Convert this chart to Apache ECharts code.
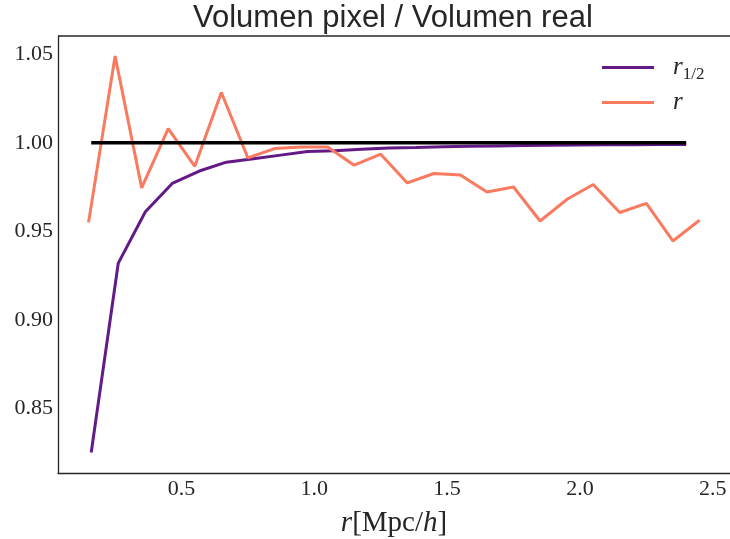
<!DOCTYPE html>
<html>
<head>
<meta charset="utf-8">
<script src="https://cdn.jsdelivr.net/npm/echarts@6/dist/echarts.min.js"></script>
<style>
  html, body { margin: 0; padding: 0; background: #ffffff; }
  #chart { width: 730px; height: 539px; }
</style>
</head>
<body>
<div id="chart"></div>
<script>
// Radii (Mpc/h) and volume ratios for the full-radius bins (r)
const rRadius = [0.15, 0.25, 0.35, 0.45, 0.55, 0.65, 0.75, 0.85, 0.95, 1.05, 1.15, 1.25,
                 1.35, 1.45, 1.55, 1.65, 1.75, 1.85, 1.95, 2.05, 2.15, 2.25, 2.35, 2.45];
const rRatio = [0.955, 1.049, 0.9745, 1.008, 0.9867, 1.0284, 0.9914, 0.9967, 0.9976, 0.9976,
                0.9873, 0.9935, 0.9773, 0.9826, 0.9818, 0.9722, 0.9750, 0.9558, 0.9679, 0.9764,
                0.9606, 0.9657, 0.9445, 0.9562];

// Radii and volume ratios for the half-radius bins (r_1/2)
const halfRadius = [0.160, 0.262, 0.364, 0.465, 0.567, 0.669, 0.771, 0.873, 0.975, 1.076,
                    1.178, 1.280, 1.382, 1.484, 1.585, 1.687, 1.789, 1.891, 1.993, 2.095,
                    2.196, 2.298, 2.400];
const halfRatio = [0.825, 0.932, 0.961, 0.977, 0.984, 0.989, 0.991, 0.993, 0.995, 0.9955,
                   0.9963, 0.9970, 0.9973, 0.9977, 0.9980, 0.9982, 0.9984, 0.9986, 0.9987,
                   0.9988, 0.9989, 0.9990, 0.9990];

// Reference level (ratio = 1)
const unityRadius = [0.16, 2.40];
const unityRatio = [1.0, 1.0];

// Tick labels
const xTicks = [0.5, 1.0, 1.5, 2.0, 2.5];
const yTicks = [0.85, 0.90, 0.95, 1.00, 1.05];

const pairs = (xs, ys) => xs.map((x, i) => [x, ys[i]]);

const PURPLE = '#641a86';
const SALMON = '#f97a5f';
const INK = '#262626';
const SERIF = '"Liberation Serif", "DejaVu Serif", serif';

const legendRich = {
  i: { fontFamily: SERIF, fontStyle: 'italic', fontSize: 25, color: INK, lineHeight: 30 },
  s: { fontFamily: SERIF, fontSize: 17, color: INK, lineHeight: 30, padding: [14, 0, 0, 0] }
};

const X_MIN = 0.035, X_MAX = 2.565;
const Y_MIN = 0.8134, Y_MAX = 1.0603;

const chart = echarts.init(document.getElementById('chart'), null, { renderer: 'canvas' });

chart.setOption({
  backgroundColor: '#ffffff',
  animation: false,
  title: {
    text: 'Volumen pixel / Volumen real',
    left: 193,
    top: 0,
    padding: 0,
    textStyle: {
      fontFamily: '"Liberation Sans", Arial, sans-serif',
      fontWeight: 'normal',
      fontSize: 31,
      color: INK,
      lineHeight: 36
    }
  },
  legend: [
    {
      data: [{ name: 'r1/2', icon: 'rect' }],
      left: 602, top: 52, padding: 0,
      itemWidth: 52, itemHeight: 3,
      formatter: () => '{i|r}{s|1/2}',
      textStyle: { rich: legendRich, padding: [0, 0, 0, 14] }
    },
    {
      data: [{ name: 'r', icon: 'rect' }],
      left: 602, top: 90, padding: 0,
      itemWidth: 52, itemHeight: 3,
      formatter: () => '{i|r}',
      textStyle: { rich: legendRich, padding: [0, 0, 0, 14] }
    }
  ],
  grid: { left: 58, top: 36, right: 0, bottom: 66, containLabel: false, outerBoundsMode: 'none' },
  xAxis: {
    type: 'value',
    min: X_MIN,
    max: X_MAX,
    name: '{i|r}{n|[Mpc/}{i|h}{n|]}',
    nameLocation: 'middle',
    nameGap: 36,
    nameTextStyle: {
      rich: {
        i: { fontFamily: SERIF, fontStyle: 'italic', fontSize: 29, color: INK },
        n: { fontFamily: SERIF, fontSize: 29, color: INK }
      }
    },
    axisLine: { show: true, onZero: false, lineStyle: { color: INK, width: 1.3 } },
    axisTick: { show: false },
    splitLine: { show: false },
    axisLabel: {
      customValues: xTicks,
      formatter: v => v.toFixed(1),
      fontFamily: SERIF,
      fontSize: 22,
      color: INK,
      margin: 5
    }
  },
  yAxis: {
    type: 'value',
    min: Y_MIN,
    max: Y_MAX,
    axisLine: { show: true, onZero: false, lineStyle: { color: INK, width: 1.3 } },
    axisTick: { show: false },
    splitLine: { show: false },
    axisLabel: {
      customValues: yTicks,
      formatter: v => v.toFixed(2),
      fontFamily: SERIF,
      fontSize: 22,
      color: INK,
      margin: 5
    }
  },
  series: [
    {
      name: 'r1/2',
      type: 'line',
      data: pairs(halfRadius, halfRatio),
      showSymbol: false,
      symbol: 'none',
      color: PURPLE,
      lineStyle: { color: PURPLE, width: 3 },
      z: 2
    },
    {
      name: 'r',
      type: 'line',
      data: pairs(rRadius, rRatio),
      showSymbol: false,
      symbol: 'none',
      color: SALMON,
      lineStyle: { color: SALMON, width: 3 },
      z: 3
    },
    {
      name: 'unity',
      type: 'line',
      data: pairs(unityRadius, unityRatio),
      showSymbol: false,
      symbol: 'none',
      lineStyle: { color: '#000000', width: 3.3 },
      z: 4
    }
  ]
});

// Top frame line of the plotting area
const topLeft = chart.convertToPixel({ gridIndex: 0 }, [X_MIN, Y_MAX]);
const topRight = chart.convertToPixel({ gridIndex: 0 }, [X_MAX, Y_MAX]);
chart.setOption({
  graphic: [{
    type: 'line',
    shape: { x1: topLeft[0], y1: topLeft[1], x2: topRight[0], y2: topRight[1] },
    style: { stroke: INK, lineWidth: 1.3 },
    silent: true
  }]
});
</script>
</body>
</html>
